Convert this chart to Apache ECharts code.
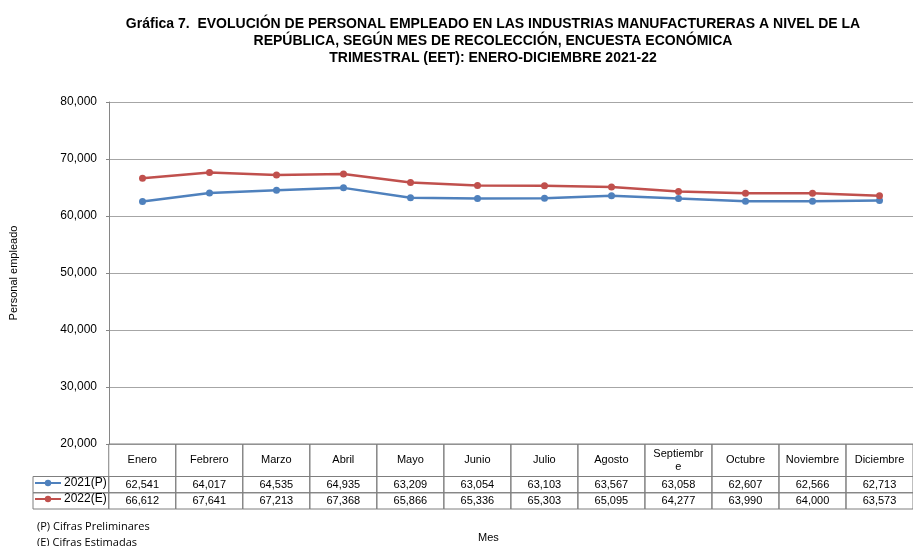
<!DOCTYPE html>
<html>
<head>
<meta charset="utf-8">
<script src="https://cdn.jsdelivr.net/npm/echarts@6/dist/echarts.min.js"></script>
<style>
  html, body { margin: 0; padding: 0; background: #fff; }
  #chart { width: 913px; height: 546px; }
</style>
</head>
<body>
<div id="chart"></div>
<script>
var months = ["Enero", "Febrero", "Marzo", "Abril", "Mayo", "Junio", "Julio",
  "Agosto", "Septiembre", "Octubre", "Noviembre", "Diciembre"];
var serie2021 = [62541, 64017, 64535, 64935, 63209, 63054, 63103, 63567, 63058, 62607, 62566, 62713];
var serie2022 = [66612, 67641, 67213, 67368, 65866, 65336, 65303, 65095, 64277, 63990, 64000, 63573];
var seriesNames = ["2021(P)", "2022(E)"];
var notas = ["(P) Cifras Preliminares", "(E) Cifras Estimadas"];

var azul = "#4F81BD";
var rojo = "#C0504D";
var borde = "#7f7f7f";

function fmt(v) {
  return v.toLocaleString("en-US");
}

// celdas de la tabla de datos: columnas 0..11, filas: encabezado [0,2], 2021 [2,3], 2022 [3,4]
var cells = [];
months.forEach(function (m, i) {
  cells.push({ x0: i, x1: i + 1, y0: 0, y1: 2, text: m });
  cells.push({ x0: i, x1: i + 1, y0: 2, y1: 3, text: fmt(serie2021[i]) });
  cells.push({ x0: i, x1: i + 1, y0: 3, y1: 4, text: fmt(serie2022[i]) });
});
// columna de la leyenda
cells.push({ x0: -1.13, x1: 0, y0: 2, y1: 3, text: "" });
cells.push({ x0: -1.13, x1: 0, y0: 3, y1: 4, text: "" });

var myChart = echarts.init(document.getElementById("chart"));

var option = {
  backgroundColor: "#FFFFFF",
  animation: false,
  title: {
    text: "Gráfica 7.  EVOLUCIÓN DE PERSONAL EMPLEADO EN LAS INDUSTRIAS MANUFACTURERAS A NIVEL DE LA\nREPÚBLICA, SEGÚN MES DE RECOLECCIÓN, ENCUESTA ECONÓMICA\nTRIMESTRAL (EET): ENERO-DICIEMBRE 2021-22",
    left: 488,
    top: 11,
    textAlign: "center",
    textStyle: {
      fontFamily: "Liberation Sans",
      fontWeight: "bold",
      fontSize: 14,
      lineHeight: 17,
      color: "#000",
      align: "center"
    }
  },
  legend: {
    orient: "vertical",
    left: 34,
    top: 477,
    itemGap: 4,
    itemWidth: 26,
    itemHeight: 8,
    padding: 0,
    data: seriesNames,
    textStyle: {
      fontFamily: "Liberation Sans",
      fontSize: 12,
      lineHeight: 12,
      color: "#000",
      padding: [0, 0, 0, -2]
    }
  },
  grid: [
    { left: 109, top: 102, width: 806, height: 342 },
    { left: 33, top: 444, width: 882, height: 65 }
  ],
  xAxis: [
    {
      type: "category",
      gridIndex: 0,
      data: months,
      boundaryGap: true,
      axisLine: { show: false },
      axisTick: { show: false },
      axisLabel: { show: false }
    },
    {
      type: "value",
      gridIndex: 1,
      min: -1.13,
      max: 12,
      show: false
    }
  ],
  yAxis: [
    {
      type: "value",
      gridIndex: 0,
      min: 20000,
      max: 80000,
      interval: 10000,
      name: "Personal empleado",
      nameLocation: "middle",
      nameGap: 90,
      nameTextStyle: { fontFamily: "Liberation Sans", fontSize: 11, color: "#000" },
      axisLine: { show: true, lineStyle: { color: "#868686" } },
      axisTick: { show: true, length: 3, lineStyle: { color: "#868686" } },
      axisLabel: {
        margin: 12,
        fontFamily: "Liberation Sans",
        fontSize: 12,
        color: "#000",
        formatter: function (v) { return fmt(v); }
      },
      splitLine: { lineStyle: { color: "#a6a6a6" } }
    },
    {
      type: "value",
      gridIndex: 1,
      min: 0,
      max: 4,
      inverse: true,
      show: false
    }
  ],
  graphic: [
    {
      type: "text",
      left: 478,
      top: 532,
      style: { text: "Mes", fontFamily: "Liberation Sans", fontSize: 11, fill: "#000" }
    },
    {
      type: "text",
      left: 37,
      top: 521,
      style: { text: notas[0], fontFamily: "Open Sans", fontSize: 11, fill: "#000" }
    },
    {
      type: "text",
      left: 37,
      top: 537,
      style: { text: notas[1], fontFamily: "Open Sans", fontSize: 11, fill: "#000" }
    }
  ],
  series: [
    {
      name: seriesNames[0],
      type: "line",
      xAxisIndex: 0,
      yAxisIndex: 0,
      data: serie2021,
      symbol: "circle",
      symbolSize: 7,
      itemStyle: { color: azul },
      lineStyle: { color: azul, width: 2.5 }
    },
    {
      name: seriesNames[1],
      type: "line",
      xAxisIndex: 0,
      yAxisIndex: 0,
      data: serie2022,
      symbol: "circle",
      symbolSize: 7,
      itemStyle: { color: rojo },
      lineStyle: { color: rojo, width: 2.5 }
    },
    {
      type: "custom",
      xAxisIndex: 1,
      yAxisIndex: 1,
      silent: true,
      encode: { x: [0, 2], y: [1, 3] },
      data: cells.map(function (c) { return [c.x0, c.y0, c.x1, c.y1]; }),
      renderItem: function (params, api) {
        var c = cells[params.dataIndex];
        var p0 = api.coord([c.x0, c.y0]);
        var p1 = api.coord([c.x1, c.y1]);
        var w = p1[0] - p0[0];
        return {
          type: "rect",
          shape: { x: p0[0], y: p0[1], width: w, height: p1[1] - p0[1] },
          style: { fill: "transparent", stroke: borde, lineWidth: 1 },
          textContent: {
            style: {
              text: c.text,
              fontFamily: "Liberation Sans",
              fontSize: 11,
              lineHeight: 13,
              fill: "#000",
              width: 54,
              overflow: "breakAll",
              align: "center"
            }
          },
          textConfig: { position: "inside" }
        };
      }
    }
  ]
};

myChart.setOption(option);
</script>
</body>
</html>
